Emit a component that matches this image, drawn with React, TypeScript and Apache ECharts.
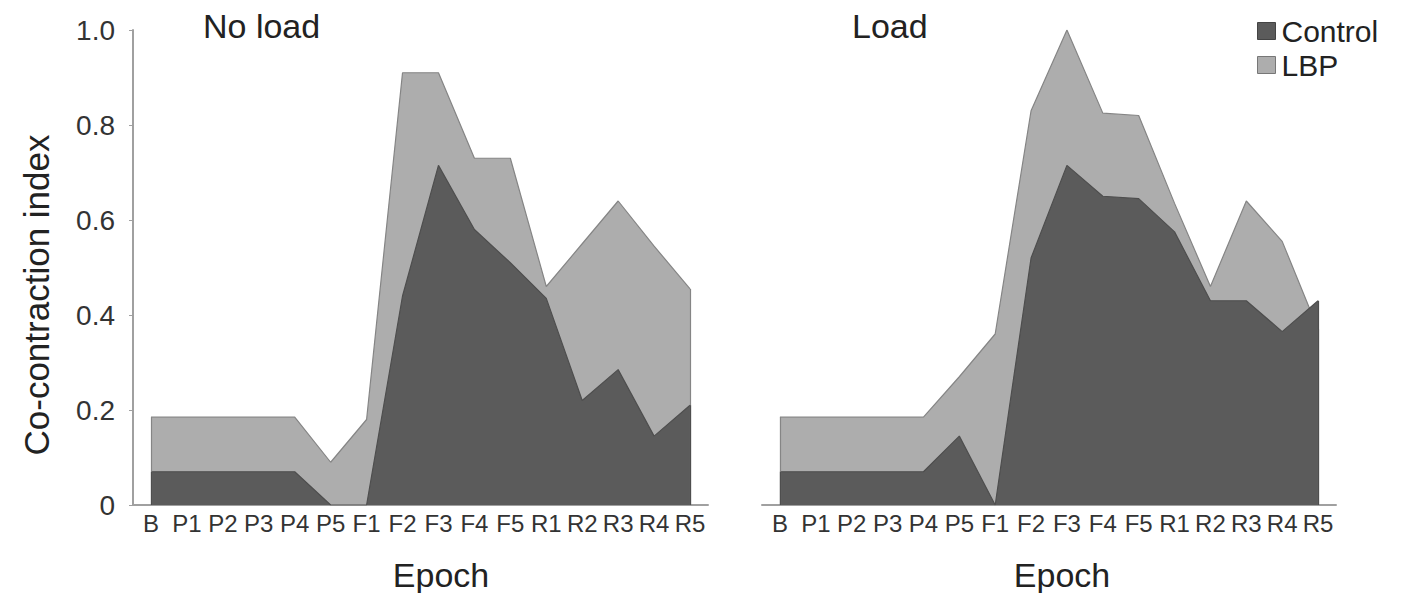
import React, { useEffect, useRef } from "react";
import * as echarts from "echarts";

const epochs = ["B", "P1", "P2", "P3", "P4", "P5", "F1", "F2", "F3", "F4", "F5", "R1", "R2", "R3", "R4", "R5"];
const yTicks = [0, 0.2, 0.4, 0.6, 0.8, 1.0];

const noLoadControl = [0.07, 0.07, 0.07, 0.07, 0.07, 0, 0, 0.44, 0.715, 0.58, 0.51, 0.435, 0.22, 0.285, 0.145, 0.21];
const noLoadLBP = [0.185, 0.185, 0.185, 0.185, 0.185, 0.09, 0.18, 0.91, 0.91, 0.73, 0.73, 0.46, 0.55, 0.64, 0.545, 0.455];
const loadControl = [0.07, 0.07, 0.07, 0.07, 0.07, 0.145, 0, 0.52, 0.715, 0.65, 0.645, 0.575, 0.43, 0.43, 0.365, 0.43];
const loadLBP = [0.185, 0.185, 0.185, 0.185, 0.185, 0.27, 0.36, 0.83, 1.0, 0.825, 0.82, 0.635, 0.46, 0.64, 0.555, 0.37];

const panelTitles = ["No load", "Load"];
const seriesNames = ["Control", "LBP"];

const FONT = "Liberation Sans, Arial, sans-serif";
const DARK = "#5b5b5b";
const LIGHT = "#adadad";

export default function App() {
  const ref = useRef<HTMLDivElement>(null);
  useEffect(() => {
    if (!ref.current) return;
    const chart = echarts.init(ref.current, undefined, { renderer: "svg" });

    const xAxisBase = (gridIndex: number) => ({
      type: "category",
      gridIndex,
      data: epochs,
      boundaryGap: true,
      axisLine: { show: true, lineStyle: { color: "#a0a0a0", width: 2 } },
      axisTick: { show: false },
      axisLabel: { fontSize: 24, color: "#333", fontFamily: FONT, margin: 6, interval: 0 },
      splitLine: { show: false },
    });

    const last = epochs.length - 1;
    const mkArea = (name: string, data: number[], idx: number, fill: string, stroke: string) => ({
      name,
      type: "line",
      xAxisIndex: idx,
      yAxisIndex: idx,
      data,
      symbol: "none",
      smooth: false,
      itemStyle: { color: fill },
      lineStyle: { color: stroke, width: 1.2 },
      areaStyle: { color: fill, opacity: 1 },
      z: name === "Control" ? 3 : 2,
      markLine: {
        silent: true,
        symbol: "none",
        label: { show: false },
        lineStyle: { color: stroke, width: 1.2, type: "solid" },
        data: [
          [{ coord: [0, 0] }, { coord: [0, data[0]] }],
          [{ coord: [last, 0] }, { coord: [last, data[last]] }],
        ],
      },
    });

    chart.setOption({
      animation: false,
      backgroundColor: "#fff",
      textStyle: { fontFamily: FONT },
      grid: [
        { left: 133, right: 700, top: 30, bottom: 88 },
        { left: 762, right: 72, top: 30, bottom: 88 },
      ],
      legend: {
        orient: "vertical",
        left: 1252,
        top: 11,
        itemWidth: 18,
        itemHeight: 17,
        itemGap: 4,
        icon: "rect",
        data: [
          { name: "Control", itemStyle: { color: DARK, borderColor: "#444", borderWidth: 1 } },
          { name: "LBP", itemStyle: { color: LIGHT, borderColor: "#777", borderWidth: 1 } },
        ],
        textStyle: { fontSize: 30, color: "#222", fontFamily: FONT, padding: [0, 0, 0, 1] },
      },
      xAxis: [xAxisBase(0), xAxisBase(1)],
      yAxis: [
        {
          type: "value",
          gridIndex: 0,
          min: 0,
          max: 1,
          interval: 0.2,
          axisLine: { show: true, lineStyle: { color: "#a0a0a0", width: 2 } },
          axisTick: { show: true, length: 4, lineStyle: { color: "#a0a0a0" } },
          axisLabel: {
            fontSize: 28,
            color: "#333",
            fontFamily: FONT,
            margin: 18,
            formatter: (v: number) => (v === 0 ? "0" : yTicks.includes(Math.round(v * 10) / 10) ? v.toFixed(1) : ""),
          },
          splitLine: { show: false },
        },
        {
          type: "value",
          gridIndex: 1,
          min: 0,
          max: 1,
          interval: 0.2,
          axisLine: { show: false },
          axisTick: { show: false },
          axisLabel: { show: false },
          splitLine: { show: false },
        },
      ],
      series: [
        mkArea(seriesNames[1], noLoadLBP, 0, LIGHT, "#858585"),
        mkArea(seriesNames[0], noLoadControl, 0, DARK, "#4e4e4e"),
        mkArea(seriesNames[1], loadLBP, 1, LIGHT, "#858585"),
        mkArea(seriesNames[0], loadControl, 1, DARK, "#4e4e4e"),
      ],
      graphic: [
        {
          type: "text",
          left: 203,
          top: 9,
          style: { text: panelTitles[0], fontSize: 34, fill: "#222", fontFamily: FONT },
        },
        {
          type: "text",
          left: 852,
          top: 9,
          style: { text: panelTitles[1], fontSize: 34, fill: "#222", fontFamily: FONT },
        },
        {
          type: "text",
          x: 36,
          y: 295,
          rotation: Math.PI / 2,
          style: {
            text: "Co-contraction index",
            fontSize: 35,
            fill: "#222",
            fontFamily: FONT,
            align: "center",
            verticalAlign: "middle",
          },
        },
        {
          type: "text",
          x: 441,
          y: 575,
          style: { text: "Epoch", fontSize: 34, fill: "#222", fontFamily: FONT, align: "center", verticalAlign: "middle" },
        },
        {
          type: "text",
          x: 1062,
          y: 575,
          style: { text: "Epoch", fontSize: 34, fill: "#222", fontFamily: FONT, align: "center", verticalAlign: "middle" },
        },
      ],
    });
    return () => chart.dispose();
  }, []);

  return <div ref={ref} style={{ position: "absolute", left: 0, top: 0, width: 1408, height: 593 }} />;
}
